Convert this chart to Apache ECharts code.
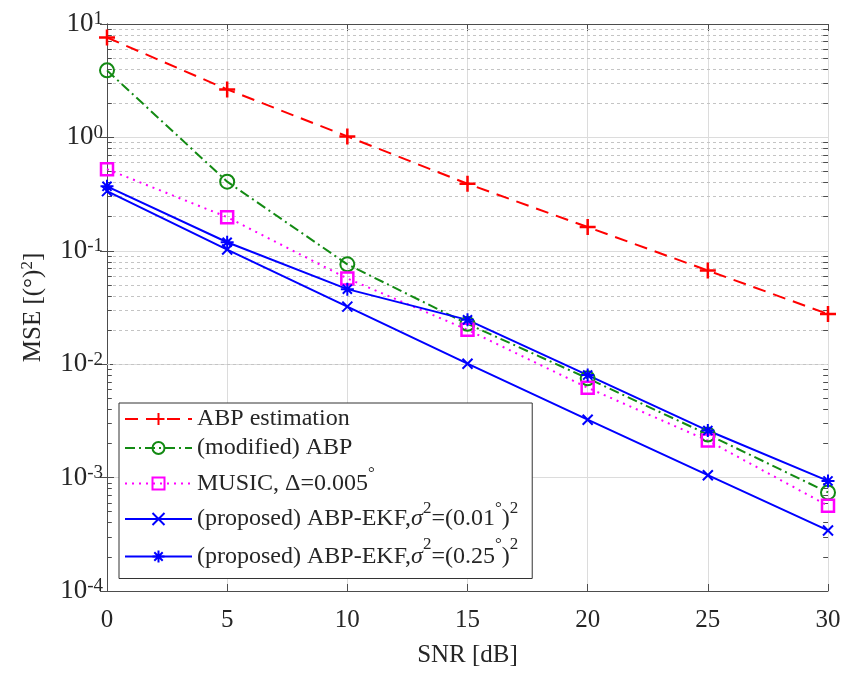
<!DOCTYPE html>
<html>
<head>
<meta charset="utf-8">
<script src="https://cdn.jsdelivr.net/npm/echarts@6/dist/echarts.min.js"></script>
<style>
  html, body { margin: 0; padding: 0; background: #fff; }
  #chart { width: 845px; height: 673px; }
</style>
</head>
<body>
<div id="chart"></div>
<script>
// SNR sweep (dB) and mean squared error of each estimator, in (deg)^2
const snr = [0, 5, 10, 15, 20, 25, 30];
const abpEstimation = [7.6, 2.65, 1.02, 0.39, 0.162, 0.067, 0.0277];
const abpModified   = [3.9, 0.407, 0.076, 0.0227, 0.0075, 0.0024, 0.00074];
const musicMse      = [0.525, 0.198, 0.057, 0.0201, 0.0062, 0.00212, 0.000565];
const ekfSigma001   = [0.336, 0.1026, 0.0322, 0.0101, 0.00324, 0.00105, 0.000342];
const ekfSigma025   = [0.37, 0.119, 0.0459, 0.0246, 0.00802, 0.0026, 0.000935];

// axis ticks
const xTicks = [0, 5, 10, 15, 20, 25, 30];
const yDecades = [1e-4, 1e-3, 1e-2, 1e-1, 1, 10];

const seriesNames = [
  'ABP estimation',
  '(modified) ABP',
  'MUSIC, Δ=0.005°',
  '(proposed) ABP-EKF,σ²=(0.01°)²',
  '(proposed) ABP-EKF,σ²=(0.25°)²'
];
// legend entries written with rich-text superscripts
const legendRich = {
  [seriesNames[0]]: '{r1|ABP estimation}',
  [seriesNames[1]]: '{r2|(modified) ABP}',
  [seriesNames[2]]: '{r3|MUSIC, Δ=0.005}{s3|°}',
  [seriesNames[3]]: '{r4|(proposed) ABP-EKF,}{i4|σ}{s4|2}{r4|=(0.01}{s4|°}{r4|)}{s4|2}',
  [seriesNames[4]]: '{r5|(proposed) ABP-EKF,}{i5|σ}{s5|2}{r5|=(0.25}{s5|°}{r5|)}{s5|2}'
};

const FONT = "'Liberation Serif', 'Times New Roman', serif";
const TXT = '#262626';
const AXIS = '#4d4d4d';

// minor log positions (2..9 within each decade) for the dotted grid and small ticks
const minorValues = [];
for (let i = 0; i < yDecades.length - 1; i++) {
  for (let k = 2; k <= 9; k++) minorValues.push(+(k * yDecades[i]).toPrecision(3));
}
const minorTickLen = 0.2;   // in SNR units

function pairs(vals) { return snr.map((x, i) => [x, vals[i]]); }

const PLUS = 'path://M5,0L5,10M0,5L10,5';
const CROSS = 'path://M0,0L10,10M10,0L0,10';
const STAR = 'path://M5,0L5,10M0,5L10,5M1.5,1.5L8.5,8.5M8.5,1.5L1.5,8.5';

function lineSeries(name, vals, color, dash, symbol, size, bw) {
  return {
    name: name,
    type: 'line',
    data: pairs(vals),
    z: 5,
    symbol: symbol,
    symbolSize: size,
    lineStyle: { color: color, width: 2, type: dash },
    itemStyle: { color: 'rgba(0,0,0,0)', borderColor: color, borderWidth: bw || 2 }
  };
}

function sup() {
  return { fontSize: 17, fontFamily: FONT, color: TXT, lineHeight: 14, verticalAlign: 'top' };
}
function row(lh) {
  return { fontSize: 24, fontFamily: FONT, color: TXT, lineHeight: lh };
}

const chart = echarts.init(document.getElementById('chart'));
chart.setOption({
  animation: false,
  backgroundColor: '#fff',
  grid: { left: 107, right: 17, top: 24, bottom: 77, containLabel: false },
  legend: {
    data: seriesNames,
    orient: 'vertical',
    left: 119,
    top: 403,
    itemGap: 5,
    itemWidth: 67,
    itemHeight: 15,
    padding: [4, 14, 10, 5],
    backgroundColor: '#fff',
    borderColor: '#333',
    borderWidth: 1,
    borderRadius: 0,
    formatter: n => legendRich[n] || n,
    textStyle: {
      fontFamily: FONT, fontSize: 24, color: TXT,
      rich: {
        r1: row(25), r2: row(29),
        r3: row(37), s3: sup(),
        r4: row(37), i4: Object.assign(row(37), { fontStyle: 'italic' }), s4: sup(),
        r5: row(41), i5: Object.assign(row(41), { fontStyle: 'italic' }), s5: sup()
      }
    }
  },
  xAxis: [
    {
      type: 'value', min: 0, max: 30, interval: 5, position: 'bottom',
      name: 'SNR [dB]', nameLocation: 'middle', nameGap: 52,
      nameTextStyle: { fontFamily: FONT, fontSize: 25, color: TXT },
      axisLine: { lineStyle: { color: AXIS, width: 1 } },
      axisTick: { inside: true, length: 7, lineStyle: { color: AXIS } },
      axisLabel: { fontFamily: FONT, fontSize: 25, color: TXT, margin: 17 },
      splitLine: { show: true, lineStyle: { color: '#dcdcdc', width: 1 } }
    },
    {
      type: 'value', min: 0, max: 30, interval: 5, position: 'top',
      axisLine: { show: true, lineStyle: { color: AXIS, width: 1 } },
      axisTick: { show: true, inside: true, length: 7, lineStyle: { color: AXIS } },
      axisLabel: { show: false },
      splitLine: { show: false }
    }
  ],
  yAxis: [
    {
      type: 'log', logBase: 10, min: yDecades[0], max: yDecades[yDecades.length - 1],
      position: 'left',
      name: '{t|MSE [(°)}{s|2}{t|]}', nameLocation: 'middle', nameGap: 60, nameRotate: 90,
      nameTextStyle: {
        rich: {
          t: { fontFamily: FONT, fontSize: 25, color: TXT, lineHeight: 28 },
          s: { fontFamily: FONT, fontSize: 17, color: TXT, lineHeight: 14, verticalAlign: 'top' }
        }
      },
      axisLine: { show: true, lineStyle: { color: AXIS, width: 1 } },
      axisTick: { show: true, inside: true, length: 7, lineStyle: { color: AXIS } },
      axisLabel: {
        margin: 4,
        formatter: v => '{b|10}{s|' + Math.round(Math.log10(v)) + '}',
        rich: {
          b: { fontFamily: FONT, fontSize: 27, color: TXT, lineHeight: 28 },
          s: { fontFamily: FONT, fontSize: 19, color: TXT, lineHeight: 15, verticalAlign: 'top' }
        }
      },
      splitLine: { show: true, lineStyle: { color: '#dcdcdc', width: 1 } }
    },
    {
      type: 'log', logBase: 10, min: yDecades[0], max: yDecades[yDecades.length - 1],
      position: 'right',
      axisLine: { show: true, lineStyle: { color: AXIS, width: 1 } },
      axisTick: { show: true, inside: true, length: 7, lineStyle: { color: AXIS } },
      axisLabel: { show: false },
      splitLine: { show: false }
    }
  ],
  series: [
    {
      // dotted minor grid and the small inward ticks on both vertical edges
      name: 'minor-grid',
      type: 'line',
      data: [],
      z: 1,
      silent: true,
      markLine: {
        silent: true,
        symbol: ['none', 'none'],
        label: { show: false },
        emphasis: { disabled: true },
        data: [].concat(
          minorValues.map(v => ({ yAxis: v, lineStyle: { color: '#c4c4c4', width: 1, type: [3, 3] } })),
          minorValues.map(v => [
            { coord: [xTicks[0], v], lineStyle: { color: AXIS, width: 1, type: 'solid' } },
            { coord: [xTicks[0] + minorTickLen, v] }
          ]),
          minorValues.map(v => [
            { coord: [xTicks[xTicks.length - 1] - minorTickLen, v], lineStyle: { color: AXIS, width: 1, type: 'solid' } },
            { coord: [xTicks[xTicks.length - 1], v] }
          ])
        )
      }
    },
    lineSeries(seriesNames[0], abpEstimation, '#ff0000', [13, 8], PLUS, 16, 2.5),
    lineSeries(seriesNames[1], abpModified, '#138a13', [10, 4, 2, 4], 'circle', 14),
    lineSeries(seriesNames[2], musicMse, '#ff00ff', [2, 5], 'rect', 12, 2.5),
    lineSeries(seriesNames[3], ekfSigma001, '#0000ff', 'solid', CROSS, 10),
    lineSeries(seriesNames[4], ekfSigma025, '#0000ff', 'solid', STAR, 13)
  ]
});
</script>
</body>
</html>
